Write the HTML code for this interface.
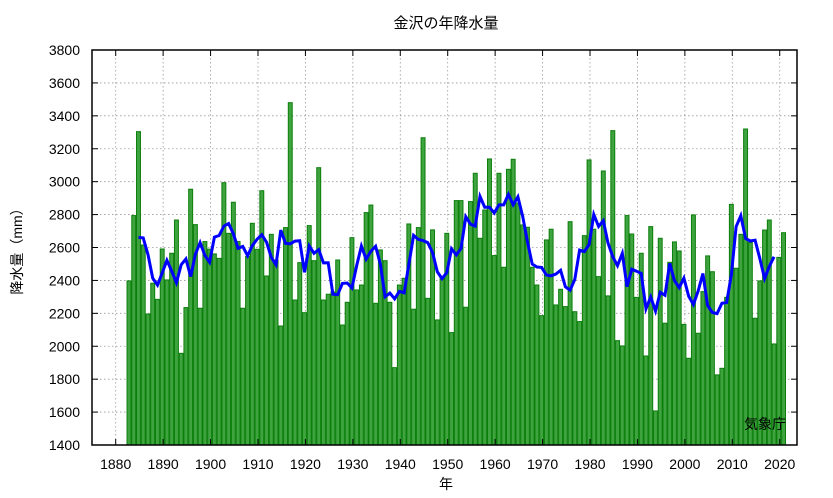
<!DOCTYPE html>
<html><head><meta charset="utf-8"><style>
html,body{margin:0;padding:0;background:#fff;}
svg{display:block;font-family:"Liberation Sans","Noto Sans CJK JP",sans-serif;}
</style></head><body>
<svg id="chart" width="833" height="498" viewBox="0 0 833 498" xmlns="http://www.w3.org/2000/svg">
<text x="446" y="28" font-size="15" text-anchor="middle" font-family="Liberation Sans, Noto Sans CJK JP, sans-serif">金沢の年降水量</text>
<text transform="translate(22,248) rotate(-90)" font-size="14" text-anchor="middle" font-family="Liberation Sans, Noto Sans CJK JP, sans-serif">降水量（mm）</text>
<text x="446" y="489" font-size="14" text-anchor="middle" font-family="Liberation Sans, Noto Sans CJK JP, sans-serif">年</text>
<g id="grid"></g>
<g id="bars"></g>
<g id="line"></g>
<g id="axes"></g>
<text x="765" y="429" font-size="14" text-anchor="middle" font-family="Liberation Sans, Noto Sans CJK JP, sans-serif">気象庁</text>
</svg>
<script>
const firstYear = 1882;
const precip = [2397,2794,3304,2615,2196,2383,2285,2591,2403,2565,2767,1957,2235,2954,2739,2231,2636,2590,2561,2534,
2994,2686,2875,2636,2231,2545,2747,2589,2945,2427,2680,2524,2123,2721,3480,2281,2508,2204,2733,2520,
3085,2281,2316,2330,2524,2129,2267,2660,2342,2372,2812,2858,2261,2585,2520,2267,1870,2372,2413,2743,
2225,2721,3267,2291,2707,2160,2420,2686,2083,2885,2885,2237,2879,3051,2656,2828,3138,2551,3051,2480,
3075,3136,2870,2737,2723,2480,2372,2186,2646,2711,2251,2346,2241,2757,2210,2150,2672,3132,2711,2423,
3065,2306,3310,2034,2002,2794,2682,2297,2565,1941,2727,1607,2656,2140,2510,2634,2579,2133,1927,2798,
2079,2332,2549,2453,1826,1866,2297,2862,2474,2680,3320,2630,2170,2397,2706,2767,2014,2540,2690];
const yTicks = [1400,1600,1800,2000,2200,2400,2600,2800,3000,3200,3400,3600,3800];
const xTicks = [1880,1890,1900,1910,1920,1930,1940,1950,1960,1970,1980,1990,2000,2010,2020];

const NS = "http://www.w3.org/2000/svg";
const L = 92, R = 797, T = 50, B = 445;
function yScale(v){ return B - (v - 1400) * (B - T) / 2400; }
function xTick(yr){ return 115.7 + (yr - 1880) * 4.743; }
function xBar(i){ return 129 + i * 4.743; }
function mk(tag, attrs, parent){ const e = document.createElementNS(NS, tag); for (const k in attrs) e.setAttribute(k, attrs[k]); parent.appendChild(e); return e; }

const grid = document.getElementById('grid');
const axes = document.getElementById('axes');
yTicks.forEach(v => {
  const y = yScale(v);
  if (v > 1400 && v < 3800) {
    const g = mk('line', {x1:L, x2:R, y1:y, y2:y, stroke:'#999', 'stroke-width':0.8, 'stroke-dasharray':'1.5,2.5'}, grid);
    
    
  }
  mk('line', {x1:L, x2:L+6, y1:y, y2:y, stroke:'#000', 'stroke-width':1}, axes);
  mk('line', {x1:R-6, x2:R, y1:y, y2:y, stroke:'#000', 'stroke-width':1}, axes);
  const t = mk('text', {x:80, y:y+5, 'font-size':14, 'text-anchor':'end'}, axes);
  t.textContent = v;
  
  
});
xTicks.forEach(yr => {
  const x = xTick(yr);
  const g = mk('line', {x1:x, x2:x, y1:T, y2:B, stroke:'#999', 'stroke-width':0.8, 'stroke-dasharray':'1.5,2.5'}, grid);
  
  
  mk('line', {x1:x, x2:x, y1:B, y2:B-6, stroke:'#000', 'stroke-width':1}, axes);
  mk('line', {x1:x, x2:x, y1:T, y2:T+6, stroke:'#000', 'stroke-width':1}, axes);
  const t = mk('text', {x:x, y:469, 'font-size':14, 'text-anchor':'middle'}, axes);
  t.textContent = yr;
  
  
});
const frame = mk('rect', {x:L, y:T, width:R-L, height:B-T, fill:'none', stroke:'#000', 'stroke-width':1.5}, axes);



const bars = document.getElementById('bars');
const bw = 4.743;
precip.forEach((v, i) => {
  const x = xBar(i) - bw/2;
  const y = yScale(v);
  const r = mk('rect', {x:x+0.4, y:y, width:bw-0.8, height:B-y, fill:'#3fa33f', stroke:'#0b7f0b', 'stroke-width':1}, bars);
  
  
});

// 5-year centred running mean
const pts = [];
for (let i = 2; i < precip.length - 2; i++) {
  let s = 0; for (let k = -2; k <= 2; k++) s += precip[i+k];
  pts.push(xBar(i).toFixed(1) + ',' + yScale(s/5).toFixed(1));
}
const pl = mk('polyline', {points:pts.join(' '), fill:'none', stroke:'#0000ff', 'stroke-width':3, 'stroke-linejoin':'miter'}, document.getElementById('line'));


</script>
</body></html>
